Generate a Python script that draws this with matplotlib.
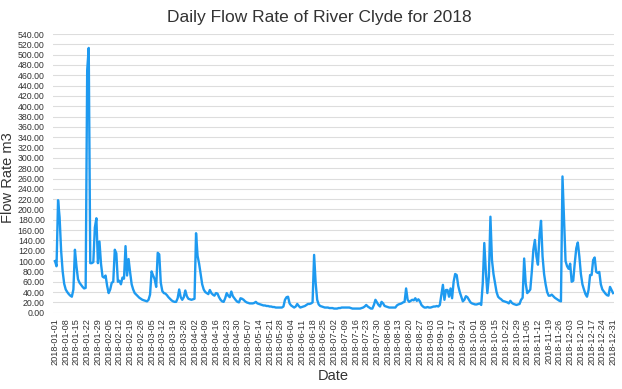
import numpy as np
import pandas as pd
import matplotlib
matplotlib.use("Agg")
import matplotlib.pyplot as plt

# daily flow, 2018-01-01 .. 2018-12-31
flow = [
    100, 90, 218, 185, 120, 80, 56, 45, 40, 36,
    33, 31, 45, 122, 90, 65, 58, 54, 50, 47,
    48, 470, 513, 96, 96, 98, 165, 183, 96, 138,
    95, 70, 68, 72, 52, 38, 45, 58, 60, 122,
    115, 60, 62, 55, 68, 66, 129, 72, 104, 78,
    55, 45, 38, 35, 32, 29, 27, 25, 24, 23,
    22, 25, 35, 80, 72, 65, 50, 116, 113, 58,
    42, 38, 37, 34, 30, 27, 24, 22, 21, 21,
    28, 45, 30, 25, 30, 43, 32, 27, 26, 25,
    26, 27, 154, 110, 95, 75, 55, 45, 40, 38,
    36, 44, 38, 35, 33, 38, 37, 30, 25, 22,
    21, 28, 38, 33, 30, 41, 32, 28, 24, 21,
    20, 28, 27, 25, 22, 20, 19, 18, 18, 18,
    19, 21, 18, 17, 16, 15, 14, 14, 13, 13,
    12, 12, 11, 11, 10, 10, 10, 10, 10, 12,
    25, 30, 31, 18, 14, 12, 10, 12, 17, 13,
    10, 11, 12, 13, 15, 17, 17, 18, 20, 112,
    58, 25, 16, 13, 12, 11, 10, 10, 10, 9,
    9, 9, 8, 8, 8, 9, 9, 10, 10, 10,
    10, 10, 10, 9, 8, 8, 8, 8, 8, 8,
    9, 10, 12, 15, 12, 10, 8, 8, 15, 25,
    20, 15, 12, 21, 18, 13, 12, 11, 10, 10,
    10, 10, 10, 14, 16, 17, 18, 20, 21, 47,
    25, 21, 23, 25, 24, 28, 23, 26, 22, 15,
    12, 10, 10, 11, 10, 10, 11, 12, 12, 13,
    12, 15, 35, 54, 25, 44, 44, 31, 47, 28,
    60, 75, 73, 52, 40, 31, 22, 25, 32, 30,
    25, 20, 18, 17, 16, 16, 17, 18, 15, 57,
    135, 80, 38, 70, 186, 102, 75, 57, 40, 31,
    28, 26, 23, 22, 21, 20, 18, 23, 19, 17,
    16, 15, 16, 17, 25, 29, 105, 57, 38, 41,
    45, 80, 122, 141, 109, 93, 150, 178, 109, 75,
    55, 40, 33, 33, 35, 32, 29, 27, 25, 23,
    22, 264, 180, 100, 90, 85, 95, 60, 62, 96,
    125, 136, 109, 75, 55, 45, 36, 31, 44, 73,
    73, 102, 107, 79, 77, 79, 55, 45, 41, 37,
    34, 33, 50, 44, 38,
]

dates = pd.date_range("2018-01-01", periods=len(flow), freq="D")
tick_days = list(range(0, len(flow), 7))
tick_labels = [dates[i].strftime("%Y-%m-%d") for i in tick_days]
y_ticks = np.arange(0, 541, 20)

plt.rcParams["font.family"] = ["Liberation Sans", "DejaVu Sans"]

fig = plt.figure(figsize=(6.22, 3.89), dpi=100)
ax = fig.add_axes([53 / 622, 1 - 312.7 / 389, (614 - 53) / 622, (312.7 - 34) / 389])

x = np.arange(len(flow))
ax.plot(x, flow, color="#1e9af0", linewidth=1.7, solid_joinstyle="round")

ax.set_xlim(-1.3, len(flow) - 0.4)
ax.set_ylim(0, 540)
ax.set_yticks(y_ticks)
ax.set_yticklabels([f"{v:.2f}" for v in y_ticks], fontsize=6.3, color="#333333")
ax.set_xticks(tick_days)
ax.set_xticklabels(tick_labels, rotation=90, fontsize=6.6, color="#333333")
ax.tick_params(axis="y", length=0, pad=6)
ax.tick_params(axis="x", length=0, pad=4)
ax.grid(axis="y", color="#dddddd", linewidth=0.8)
ax.set_axisbelow(True)
for s in ax.spines.values():
    s.set_visible(False)

ax.set_ylabel("Flow Rate m3", fontsize=10.5, color="#333333")
ax.yaxis.set_label_coords(-0.068, 0.485)
ax.set_xlabel("Date", fontsize=10.5, color="#333333", labelpad=3)
fig.suptitle("Daily Flow Rate of River Clyde for 2018", fontsize=12.5,
             color="#333333", x=0.513, y=0.975)

fig.savefig("out.png", dpi=100)
